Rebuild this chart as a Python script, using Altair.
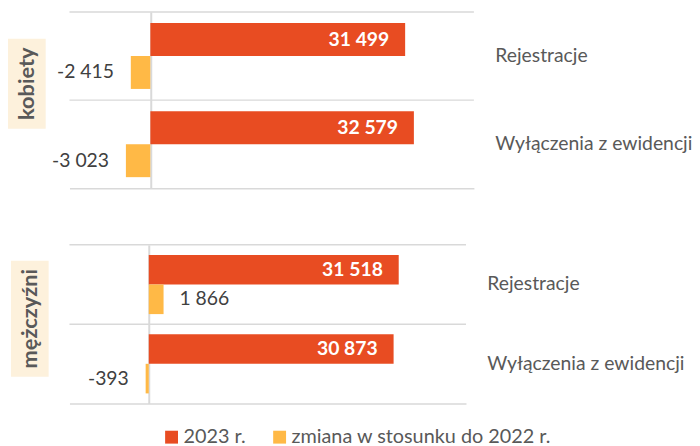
import altair as alt
import pandas as pd

panels = ["kobiety", "mężczyźni"]
categories = ["Rejestracje", "Wyłączenia z ewidencji"]
series = ["2023 r.", "zmiana w stosunku do 2022 r."]
women_2023 = [31499, 32579]
women_change = [-2415, -3023]
men_2023 = [31518, 30873]
men_change = [1866, -393]

RED = "#E84C22"
YELLOW = "#FFB946"
GRID = "#D9D9D9"
TXT = "#595959"
BOX = "#FDF1DC"
FONT = "Lato"


def fmt(v):
    return f"{v:,}".replace(",", " ")


rows = []
for p, v23, ch in [(panels[0], women_2023, women_change), (panels[1], men_2023, men_change)]:
    for c, a, b in zip(categories, v23, ch):
        rows.append({"panel": p, "category": c, "series": series[0], "value": a, "label": fmt(a)})
        rows.append({"panel": p, "category": c, "series": series[1], "value": b, "label": fmt(b)})
df = pd.DataFrame(rows)

layout = {
    panels[0]: dict(width=408, height=178, box=(-62, -24, 27, 118)),
    panels[1]: dict(width=400, height=160, box=(-59, -21, 16, 133)),
}


def panel_chart(p, with_legend):
    d = df[df.panel == p]
    cfg = layout[p]
    xaxis = alt.Axis(values=[0], grid=True, labels=False, ticks=False, domain=True,
                     domainColor=GRID, domainWidth=1.5, title=None, gridColor=GRID, gridWidth=2)
    x = alt.X("value:Q", scale=alt.Scale(domain=[-10000, 40000], nice=False, zero=False), axis=xaxis)
    yaxis = alt.Axis(orient="right", title=None, domain=False, ticks=False, grid=False,
                     labelPadding=21, labelFont=FONT, labelFontSize=19.5, labelColor=TXT,
                     labelLimit=400)
    yscale = alt.Scale(paddingInner=0, paddingOuter=0)
    y = alt.Y("category:N", sort=categories, scale=yscale, axis=yaxis)
    yo = alt.YOffset("series:N", sort=series,
                     scale=alt.Scale(domain=series, paddingInner=0, paddingOuter=0.34))
    if with_legend:
        leg = alt.Legend(title=None, orient="none", legendX=93, legendY=184,
                         direction="horizontal", symbolType="square",
                         symbolSize=169, symbolStrokeWidth=0, labelFont=FONT,
                         labelFontSize=20, labelColor=TXT, columnPadding=24,
                         labelOffset=2, padding=0, labelLimit=400)
    else:
        leg = None
    lines = alt.Chart(d[d.series == series[0]]).mark_rule(color=GRID, strokeWidth=1.5).encode(
        y=alt.Y("category:N", sort=categories, scale=yscale, axis=yaxis, bandPosition=0))
    bars = alt.Chart(d).mark_bar().encode(
        x=x, y=y, yOffset=yo,
        color=alt.Color("series:N", sort=series,
                        scale=alt.Scale(domain=series, range=[RED, YELLOW]),
                        legend=leg))
    red_lbl = alt.Chart(d[d.series == series[0]]).mark_text(
        align="right", baseline="middle", dx=-16, color="white", font=FONT,
        fontWeight="bold", fontSize=19.5).encode(x=x, y=y, yOffset=yo, text="label:N")
    ch = d[d.series == series[1]]
    neg_lbl = alt.Chart(ch[ch.value < 0]).mark_text(
        align="right", baseline="middle", dx=-17, color="#404040", font=FONT,
        fontSize=19.5).encode(x=x, y=y, yOffset=yo, text="label:N")
    pos_lbl = alt.Chart(ch[ch.value >= 0]).mark_text(
        align="left", baseline="middle", dx=16, color="#404040", font=FONT,
        fontSize=19.5).encode(x=x, y=y, yOffset=yo, text="label:N")
    x1, x2, y1, y2 = cfg["box"]
    pdat = pd.DataFrame({"panel": [p]})
    box = alt.Chart(pdat).mark_rect(fill=BOX).encode(
        x=alt.value(x1), x2=alt.value(x2), y=alt.value(y1), y2=alt.value(y2))
    ttl = alt.Chart(pdat).mark_text(angle=270, align="center", baseline="middle", font=FONT,
                                    fontWeight="bold", fontSize=22, color=TXT).encode(
        x=alt.value((x1 + x2) / 2), y=alt.value((y1 + y2) / 2), text="panel:N")
    return alt.layer(box, ttl, lines, bars, red_lbl, neg_lbl, pos_lbl).properties(
        width=cfg["width"], height=cfg["height"])


chart = alt.vconcat(panel_chart(panels[0], False), panel_chart(panels[1], True),
                    spacing=56).resolve_legend(color="independent").resolve_scale(
    x="independent", y="independent", yOffset="independent").properties(
    padding={"left": 0, "top": 1, "right": 0, "bottom": 0}
).configure(font=FONT).configure_view(stroke="transparent", strokeWidth=0)

chart.save("out.html", embed_options={"renderer": "svg", "actions": False})
